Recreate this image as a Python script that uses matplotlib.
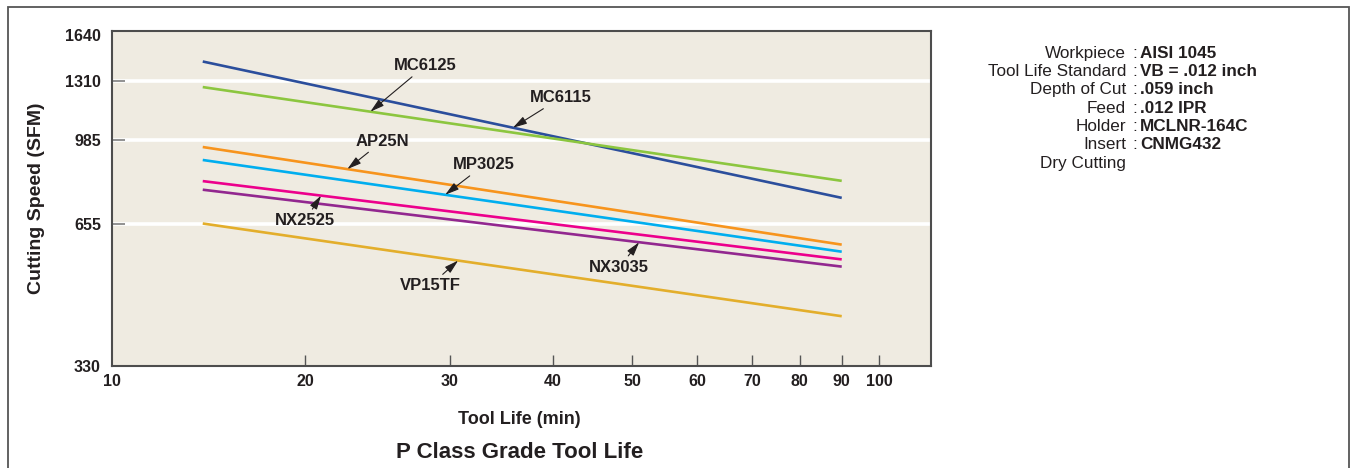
import numpy as np
import matplotlib
matplotlib.use("Agg")
import matplotlib.pyplot as plt
from matplotlib.patches import Rectangle

plt.rcParams['font.family'] = ['Liberation Sans', 'DejaVu Sans']

# ---- data ----
grades = ["MC6115", "MC6125", "AP25N", "MP3025", "NX2525", "NX3035", "VP15TF"]
tool_life = [15, 90]                      # minutes (start, end of each line)
speed_start = [1442, 1274, 953, 895, 808, 775, 658]   # SFM at 15 min
speed_end = [745, 809, 594, 574, 553, 534, 420]       # SFM at 90 min
colors = ["#2B4E9C", "#8CC63F", "#F7941D", "#00AEEF", "#EC008C", "#92278F", "#E3AE2B"]

# annotation: tool-life value where arrow points, label offset (px: right, down)
label_x = [35.8, 24.0, 22.5, 29.6, 20.9, 51.0, 30.7]
label_dx = [48, 55, 35, 39, -16, -20, -28]
label_dy = [-30, -46, -28, -30, 25, 25, 25]

y_ticks = [330, 655, 985, 1310, 1640]
x_tick_vals = [20, 30, 40, 50, 60, 70, 80, 90, 100]
x_tick_labels = ["10", "20", "30", "40", "50", "60", "70", "80", "90", "100"]
x_limits = (11.63, 115.5)
y_limits = (330, 1674)

conditions = [("Workpiece", "AISI 1045"),
              ("Tool Life Standard", "VB = .012 inch"),
              ("Depth of Cut", ".059 inch"),
              ("Feed", ".012 IPR"),
              ("Holder", "MCLNR-164C"),
              ("Insert", "CNMG432")]
extra_note = "Dry Cutting"

# ---- figure ----
W, H = 1353, 468
fig = plt.figure(figsize=(W / 100, H / 100), dpi=100)
fig.patch.set_facecolor("white")

def fx(px):
    return px / W

def fy(py):
    return 1 - py / H

# outer frame (bottom edge falls outside the picture)
fig.patches.append(Rectangle((fx(8), -0.05), fx(1349) - fx(8), fy(7) + 0.05,
                             transform=fig.transFigure, fill=False,
                             edgecolor="#555555", linewidth=1.3, zorder=0))

ax = fig.add_axes([fx(112), fy(366), fx(930.7) - fx(112), fy(30.7) - fy(366)])
ax.set_facecolor("#EFEBE1")
ax.set_xscale("log")
ax.set_yscale("log")
ax.set_xlim(*x_limits)
ax.set_ylim(*y_limits)

ax.set_xticks([x_limits[0]] + x_tick_vals)
ax.set_xticklabels(x_tick_labels)
ax.set_yticks(y_ticks)
ax.set_yticklabels([str(v) for v in y_ticks])
ax.minorticks_off()

ax.tick_params(axis="x", direction="in", length=8, width=1.0, color="#555555",
               pad=6, labelsize=11.5, labelcolor="#231F20")
ax.tick_params(axis="y", direction="in", length=9, width=1.2, color="#7f7f7f",
               pad=8, labelsize=11.5, labelcolor="#231F20")
for lab in ax.get_xticklabels() + ax.get_yticklabels():
    lab.set_fontweight("bold")

ax.grid(axis="y", color="white", linewidth=2.6, zorder=1)
ax.grid(axis="x", visible=False)
ax.set_axisbelow(True)
# hide grid/tick at the top (1640) and bottom (330)
glines = ax.yaxis.get_gridlines()
glines[0].set_visible(False)
glines[-1].set_visible(False)
yt = ax.yaxis.get_major_ticks()
yt[-1].tick1line.set_visible(False)
yt[0].tick1line.set_visible(False)
ax.xaxis.get_major_ticks()[0].tick1line.set_visible(False)

for s in ax.spines.values():
    s.set_color("#4D4D4D")
    s.set_linewidth(1.5)

# lines
for g, v0, v1, c in zip(grades, speed_start, speed_end, colors):
    ax.plot(tool_life, [v0, v1], color=c, linewidth=1.9, solid_capstyle="butt", zorder=3)

# annotations
lx = np.log(tool_life)
for g, v0, v1, xa, dx, dy in zip(grades, speed_start, speed_end, label_x, label_dx, label_dy):
    ya = np.exp(np.interp(np.log(xa), lx, np.log([v0, v1])))
    ax.annotate(g, xy=(xa, ya), xytext=(dx * 0.72, -dy * 0.72), textcoords="offset points",
                ha="center", va="center", fontsize=12, fontweight="bold", color="#231F20",
                arrowprops=dict(arrowstyle="-|>,head_length=0.7,head_width=0.2",
                                color="#231F20", lw=0.8, shrinkA=1, shrinkB=0),
                zorder=5)

# axis labels and title
fig.text(fx(37), fy(198), "Cutting Speed (SFM)", rotation=90, ha="center", va="center",
         fontsize=14, fontweight="bold", color="#231F20")
fig.text(fx(519), fy(420), "Tool Life (min)", ha="center", va="center",
         fontsize=13, fontweight="bold", color="#231F20")
fig.text(fx(520), fy(452), "P Class Grade Tool Life", ha="center", va="center",
         fontsize=16, fontweight="bold", color="#231F20")

# conditions block
row0, step = 53.3, 18.33
for i, (k, v) in enumerate(conditions):
    yy = fy(row0 + i * step)
    fig.text(fx(1126), yy, k, ha="right", va="center", fontsize=12.3, color="#231F20")
    fig.text(fx(1134.3), yy, ":", ha="center", va="center", fontsize=12.3, color="#231F20")
    fig.text(fx(1140), yy, v, ha="left", va="center", fontsize=12.3, fontweight="bold",
             color="#231F20")
fig.text(fx(1126), fy(row0 + len(conditions) * step), extra_note, ha="right", va="center",
         fontsize=12.3, color="#231F20")

fig.savefig("out.png", dpi=100)
